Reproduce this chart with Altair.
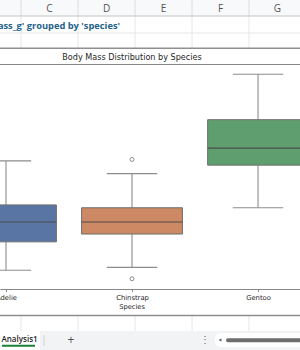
import altair as alt
import pandas as pd

# ---- data ----
species = ["Adelie", "Chinstrap", "Gentoo"]
mass_min = [2850, 2900, 3950]
mass_q1 = [3350, 3487.5, 4700]
mass_median = [3700, 3700, 5000]
mass_q3 = [4000, 3950, 5500]
mass_max = [4775, 4550, 6300]
outlier_species = ["Chinstrap", "Chinstrap"]
outlier_mass = [2700, 4800]
box_colors = ["#5975a4", "#cc8963", "#5f9e6e"]

col_letters = ["C", "D", "E", "F", "G"]
sheet_name = "Analysis1"
chart_title = "Body Mass Distribution by Species"
cell_text = "Distribution of 'body_mass_g' grouped by 'species'"
x_title = "Species"

# ---- tables ----
df = pd.DataFrame({
    "species": species,
    "pos": list(range(len(species))),
    "mn": mass_min, "q1": mass_q1, "med": mass_median, "q3": mass_q3, "mx": mass_max,
})
out_df = pd.DataFrame({
    "species": outlier_species,
    "pos": [species.index(s) for s in outlier_species],
    "mass": outlier_mass,
})
one = pd.DataFrame({"k": [0]})

T = 64  # top of plot area in page pixels
FONT_PLOT = "DejaVu Sans"
FONT_UI = "Open Sans"

xscale = alt.Scale(domain=[-0.0476, 2.333], nice=False, zero=False)
yscale = alt.Scale(domain=[2520, 6480], nice=False, zero=False)
label_expr = "[" + ",".join("'%s'" % s for s in species) + "][datum.value]"
xaxis = alt.Axis(values=list(range(len(species))), labelExpr=label_expr, title=None,
                 grid=False, labelFlush=False, labelFont=FONT_PLOT, labelFontSize=6.8,
                 labelColor="#262626", labelPadding=3, tickSize=2.5, tickColor="#888888",
                 domainColor="#888888", domainWidth=1, tickWidth=1, zindex=1)

def X(field):
    return alt.X(field, scale=xscale, axis=xaxis)

def Y(field):
    return alt.Y(field, scale=yscale, axis=None)

# ---- decoration helpers (spreadsheet UI, page pixel coordinates) ----
def hline(y, x1, x2, color, w=1.0):
    return alt.Chart(one).mark_rule(color=color, strokeWidth=w).encode(
        x=alt.value(x1), x2=alt.value(x2), y=alt.value(y - T))

def vline(x, y1, y2, color, w=1.0):
    return alt.Chart(one).mark_rule(color=color, strokeWidth=w).encode(
        x=alt.value(x), y=alt.value(y1 - T), y2=alt.value(y2 - T))

def box(x1, x2, y1, y2, fill, **kw):
    return alt.Chart(one).mark_rect(fill=fill, **kw).encode(
        x=alt.value(x1), x2=alt.value(x2), y=alt.value(y1 - T), y2=alt.value(y2 - T))

def label(text, x, y, **kw):
    return alt.Chart(one).mark_text(text=text, baseline="middle", **kw).encode(
        x=alt.value(x), y=alt.value(y - T))

col_bounds = [21, 78, 135, 192, 249]
layers = []
# column header
layers.append(box(0, 300, 0, 16, "#f8f9fa"))
for cx in col_bounds:
    layers.append(vline(cx, 0, 16, "#dadce0"))
    layers.append(vline(cx, 16, 48, "#e6e6e6"))
    layers.append(vline(cx, 316, 331, "#e6e6e6"))
layers.append(hline(16, 0, 300, "#c4c4c4"))
layers.append(hline(33, 0, 300, "#e6e6e6"))
for i, c in enumerate(col_letters):
    layers.append(label(c, 49.5 + 57 * i, 8.5, font=FONT_UI, fontSize=10, color="#555555", align="center"))
layers.append(label(cell_text, 120, 26, font=FONT_UI, fontSize=9.3, fontWeight="bold",
                    color="#24628a", align="right"))

# chart frame
layers.append(box(0, 300, 48, 315.5, "#ffffff"))
layers.append(hline(48.3, 0, 300, "#8f8f8f", 1.6))
layers.append(hline(315.5, 0, 300, "#8f8f8f", 1.6))
layers.append(hline(64.5, 0, 300, "#888888", 1))

# sheet tab bar
layers.append(box(0, 300, 331, 350, "#f1f3f4"))
layers.append(box(0, 40, 331, 350, "#ffffff"))
layers.append(label(sheet_name, 1.5, 340, font=FONT_UI, fontSize=8, fontWeight=600,
                    color="#1f1f1f", align="left"))
layers.append(hline(345.8, 2, 35, "#188038", 2))
layers.append(vline(44, 335, 346, "#d0d0d0"))
layers.append(label("+", 71, 340, font=FONT_UI, fontSize=12, color="#555555", align="center"))
layers.append(label("⋮", 205, 340, font=FONT_UI, fontSize=10, color="#666666", align="center"))
layers.append(box(215, 310, 333, 347, "#ffffff", cornerRadius=6))
layers.append(alt.Chart(one).mark_point(shape="triangle-left", filled=True, color="#555555", size=10, opacity=1)
              .encode(x=alt.value(220), y=alt.value(340 - T)))
layers.append(box(226, 310, 338.3, 342.3, "#6e6e6e", cornerRadius=2))

# ---- boxplot from the summary arrays ----
base = alt.Chart(df).transform_calculate(
    lo="datum.pos - 0.4", hi="datum.pos + 0.4",
    clo="datum.pos - 0.2", chi="datum.pos + 0.2")

whisk_lo = base.mark_rule(color="#8c8c8c", strokeWidth=1.1).encode(x=X("pos:Q"), y=Y("mn:Q"), y2="q1:Q")
whisk_hi = base.mark_rule(color="#8c8c8c", strokeWidth=1.1).encode(x=X("pos:Q"), y=Y("q3:Q"), y2="mx:Q")
cap_lo = base.mark_rule(color="#8c8c8c", strokeWidth=1.1).encode(x=X("clo:Q"), x2="chi:Q", y=Y("mn:Q"))
cap_hi = base.mark_rule(color="#8c8c8c", strokeWidth=1.1).encode(x=X("clo:Q"), x2="chi:Q", y=Y("mx:Q"))
boxes = base.mark_rect(stroke="#6e6e6e", strokeWidth=1, opacity=1).encode(
    x=X("lo:Q"), x2="hi:Q", y=Y("q1:Q"), y2="q3:Q",
    fill=alt.Fill("species:N", scale=alt.Scale(domain=species, range=box_colors), legend=None))
medians = base.mark_rule(color="#4d4d4d", strokeWidth=1.1).encode(x=X("lo:Q"), x2="hi:Q", y=Y("med:Q"))
outliers = alt.Chart(out_df).mark_point(shape="circle", filled=False, color="#8c8c8c",
                                        size=16, strokeWidth=1, opacity=1).encode(
    x=X("pos:Q"), y=Y("mass:Q"))

mid = alt.X(datum=1, type="quantitative", scale=xscale, axis=xaxis)
title_txt = alt.Chart(one).mark_text(text=chart_title, font=FONT_PLOT, fontSize=8.1,
                                     color="#262626", baseline="middle").encode(
    x=mid, y=alt.value(57.8 - T))
xtitle_txt = alt.Chart(one).mark_text(text=x_title, font=FONT_PLOT, fontSize=6.7,
                                      color="#262626", baseline="middle").encode(
    x=mid, y=alt.value(307 - T))

chart = alt.layer(*layers, whisk_lo, whisk_hi, cap_lo, cap_hi, boxes, medians, outliers,
                  title_txt, xtitle_txt).properties(
    width=300, height=225,
    autosize=alt.AutoSizeParams(type="none"),
    padding={"left": 0, "top": T, "right": 0, "bottom": 350 - T - 225},
    background="white",
).configure_view(stroke=None)

chart.save("out.html", embed_options={"renderer": "svg", "actions": False})
